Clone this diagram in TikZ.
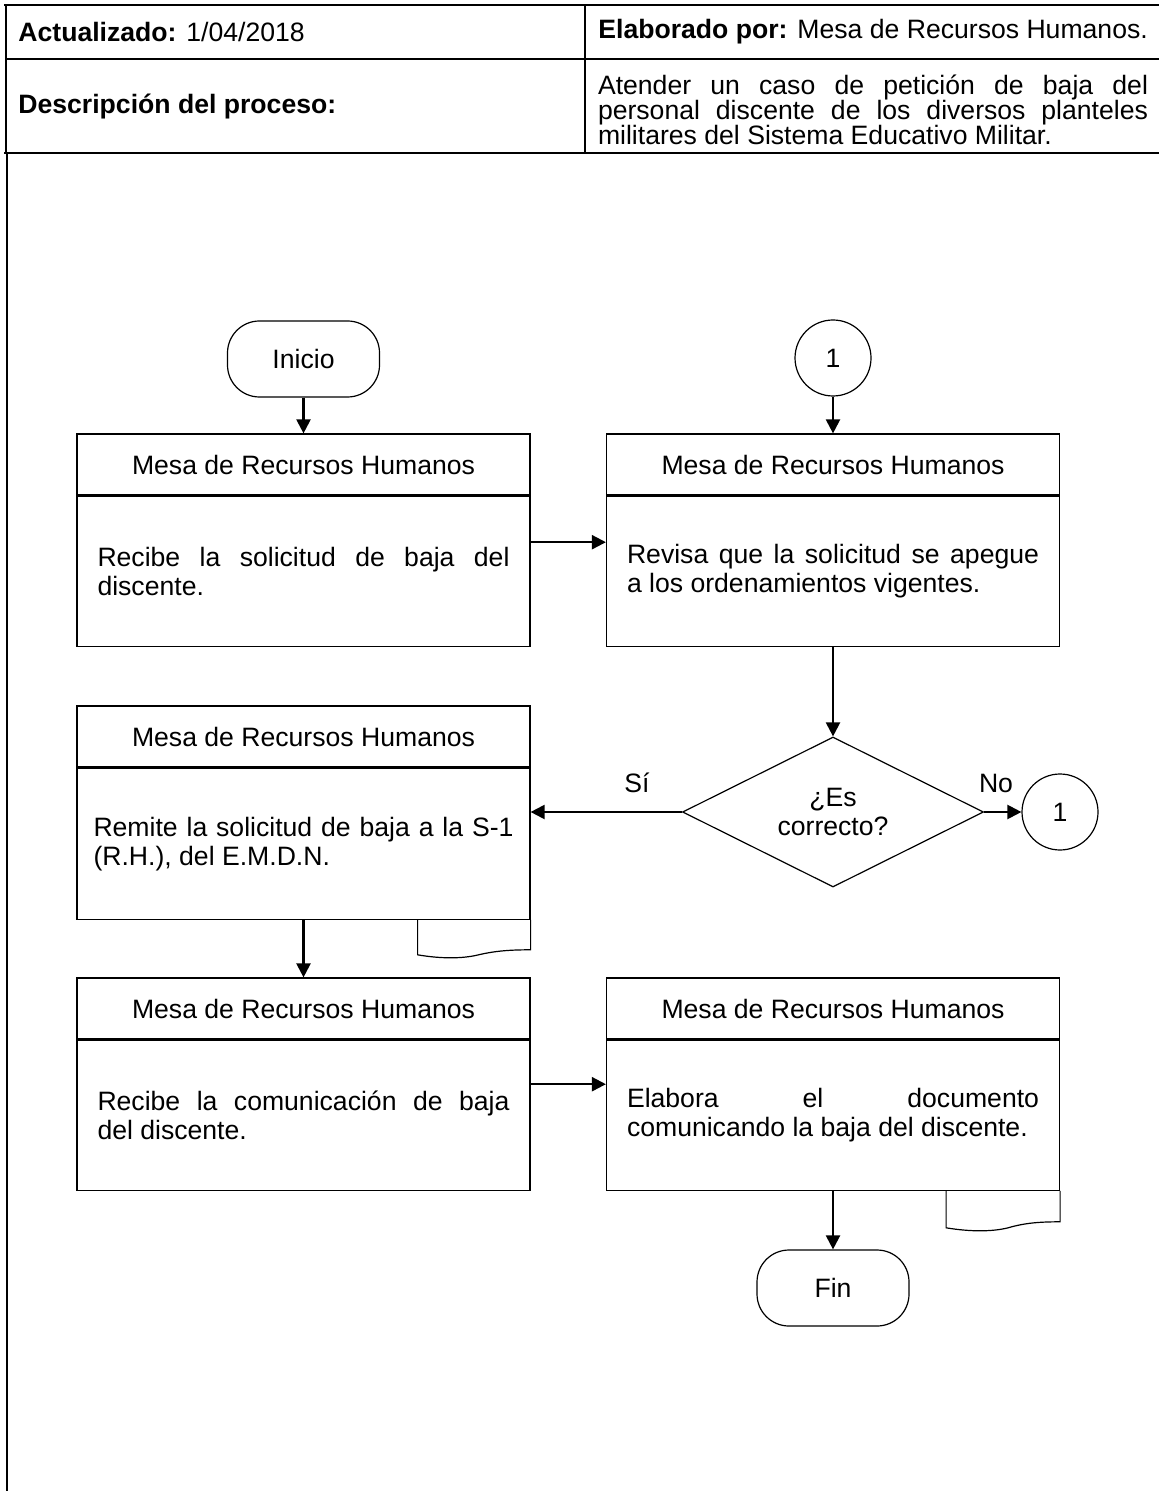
\documentclass[tikz,border=0pt]{standalone}
\usepackage{fontspec}
\setmainfont{Liberation Sans}
\usetikzlibrary{arrows.meta,shapes.geometric,calc}
\newcommand{\bxfont}{\fontsize{13.3}{14.5}\selectfont}
\newcommand{\hdfont}{\fontsize{13.3}{12.5}\selectfont}
\begin{document}
\begin{tikzpicture}[x=0.5pt,y=-0.5pt,
  tbl/.style={line width=0.9pt},
  hdr/.style={draw, line width=0.6pt, minimum width=226.5pt, minimum height=30.5pt, inner sep=0pt, font=\bxfont},
  bodybox/.style={draw, line width=0.6pt, minimum width=226.5pt, minimum height=75pt, text width=206pt, align=justify, inner sep=0pt, font=\bxfont},
  term/.style={draw, line width=0.6pt, rounded corners=16pt, minimum width=76pt, minimum height=38pt, font=\bxfont},
  conn/.style={draw, circle, line width=0.6pt, minimum size=38pt, inner sep=0pt, font=\bxfont},
  decision/.style={draw, diamond, aspect=2, line width=0.6pt, minimum width=150.5pt, minimum height=75pt, inner sep=0pt, align=center, font=\bxfont},
  arr/.style={line width=1.1pt, -{Triangle[length=7pt,width=7pt]}},
  lbl/.style={font=\bxfont, inner sep=0pt},
  hdtext/.style={font=\hdfont, inner sep=0pt},
  doctab/.style={line width=0.6pt}
]
\useasboundingbox (0,0) rectangle (1159,1491);

% header table
\draw[tbl] (4,5) -- (1159,5);
\draw[tbl] (6,5) -- (6,153);
\draw[tbl] (6,59) -- (1159,59);
\draw[tbl] (585,5) -- (585,153);
\draw[tbl] (4,153) -- (1159,153);
\draw[tbl] (7,153) -- (7,1491);

\node[hdtext, anchor=west] (act) at (18,32) {\textbf{Actualizado:} 1/04/2018};
\node[hdtext, anchor=west] (elab) at (598,32) {\textbf{Elaborado por:} Mesa de Recursos Humanos.};
\node[hdtext, anchor=west] (desc) at (18,107) {\textbf{Descripción del proceso:}};
\node[hdtext, text width=275pt, align=justify] (dtx) at (873,110) {Atender un caso de petición de baja del\linebreak personal discente de los diversos planteles\linebreak militares del Sistema Educativo Militar.};

% flowchart nodes
\node[term] (ini) at (303.5,359) {Inicio};
\node[conn] (c1a) at (833,358) {1};

\node[hdr] (a1) at (303.5,464.5) {Mesa de Recursos Humanos};
\node[bodybox, anchor=north] (a2) at (a1.south) {Recibe la solicitud de baja del\linebreak discente.};

\node[hdr] (b1) at (833,464.5) {Mesa de Recursos Humanos};
\node[bodybox, anchor=north] (b2) at (b1.south) {Revisa que la solicitud se apegue\linebreak a los ordenamientos vigentes.};

\node[decision] (dia) at (833,812) {¿Es\\correcto?};
\node[conn] (c1b) at (1060,812) {1};
\node[lbl] (si) at (637,783) {Sí};
\node[lbl] (no) at (996,783) {No};

\node[hdr] (c1) at (303.5,736.5) {Mesa de Recursos Humanos};
\node[bodybox, anchor=north, minimum height=75.5pt, text width=210pt] (c2) at (c1.south) {Remite la solicitud de baja a la S-1 (R.H.), del E.M.D.N.};

\node[hdr] (d1) at (303.5,1008.5) {Mesa de Recursos Humanos};
\node[bodybox, anchor=north] (d2) at (d1.south) {Recibe la comunicación de baja\linebreak del discente.};

\node[hdr] (e1) at (833,1008.5) {Mesa de Recursos Humanos};
\node[bodybox, anchor=north] (e2) at (e1.south) {Elabora el documento\linebreak comunicando la baja del discente.};

\node[term] (fin) at (833,1288) {Fin};

% document tabs
\begin{scope}[shift={(c2.south east)}]
\draw[doctab] (-113,0) -- (-113,35) .. controls (-90,39) and (-68,39) .. (-52,35) .. controls (-35,31) and (-20,30) .. (0,30) -- (0,0);
\end{scope}
\begin{scope}[shift={(e2.south east)}]
\draw[doctab] (-114,0) -- (-114,37) .. controls (-90,41) and (-68,41) .. (-52,37) .. controls (-35,32) and (-20,31) .. (0,31) -- (0,0);
\end{scope}

% connectors
\draw[arr] (ini.south) -- (a1.north);
\draw[arr] (c1a.south) -- (b1.north);
\draw[arr] ($(a2.east)+(0,-29)$) -- ($(b2.west)+(0,-29)$);
\draw[arr] (b2.south) -- (dia.north);
\draw[arr] (dia.west) -- (dia.west -| c2.east);
\draw[arr] (dia.east) -- (c1b.west);
\draw[arr] (c2.south) -- (d1.north);
\draw[arr] ($(d2.east)+(0,-31)$) -- ($(e2.west)+(0,-31)$);
\draw[arr] (e2.south) -- (fin.north);
\end{tikzpicture}
\end{document}
